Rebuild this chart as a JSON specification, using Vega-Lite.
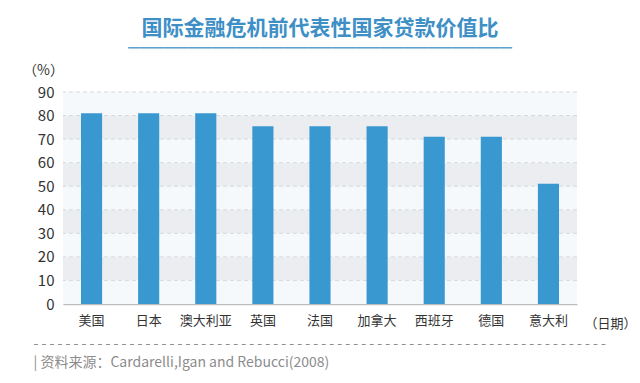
{
  "$schema": "https://vega.github.io/schema/vega-lite/v6.json",
  "width": 514,
  "height": 212,
  "autosize": {"type": "none"},
  "padding": {"left": 63, "top": 92, "right": 63, "bottom": 79},
  "background": "white",
  "config": {"font": "Noto Sans CJK SC", "view": {"stroke": null}},
  "title": {
    "text": "国际金融危机前代表性国家贷款价值比",
    "subtitle": "━━━━━━━━━━━━━━━━━━━━━━━━━━━━━━━━",
    "anchor": "middle",
    "fontSize": 21,
    "fontWeight": "bold",
    "color": "#3d8fc6",
    "subtitleColor": "#5aa3d3",
    "subtitleFontSize": 12,
    "subtitlePadding": 5,
    "offset": 8
  },
  "datasets": {
    "bands": [
      {"lo": 0, "hi": 10, "shade": "light"},
      {"lo": 10, "hi": 20, "shade": "dark"},
      {"lo": 20, "hi": 30, "shade": "light"},
      {"lo": 30, "hi": 40, "shade": "dark"},
      {"lo": 40, "hi": 50, "shade": "light"},
      {"lo": 50, "hi": 60, "shade": "dark"},
      {"lo": 60, "hi": 70, "shade": "light"},
      {"lo": 70, "hi": 80, "shade": "dark"},
      {"lo": 80, "hi": 90, "shade": "light"}
    ],
    "loans": [
      {"country": "美国", "value": 81},
      {"country": "日本", "value": 81},
      {"country": "澳大利亚", "value": 81},
      {"country": "英国", "value": 75.5},
      {"country": "法国", "value": 75.5},
      {"country": "加拿大", "value": 75.5},
      {"country": "西班牙", "value": 71},
      {"country": "德国", "value": 71},
      {"country": "意大利", "value": 51}
    ]
  },
  "layer": [
    {
      "data": {"name": "bands"},
      "mark": {"type": "rect"},
      "encoding": {
        "y": {
          "field": "lo",
          "type": "quantitative",
          "scale": {"domain": [0, 90], "nice": false},
          "axis": {
            "orient": "right",
            "labels": false,
            "ticks": false,
            "domain": false,
            "grid": false,
            "title": ["- - - - - - - - - - - - - - - - - - - - - - - - - - - - - - - - - - - - - - - - - - - - - - - - - - - - - - - - - - - - - - - - - - - - - - - -", "|  资料来源：Cardarelli,Igan and Rebucci(2008)"],
            "titleAngle": 0,
            "titleAlign": "left",
            "titleBaseline": "top",
            "titleX": -544,
            "titleY": 244,
            "titleFontSize": 14,
            "titleFontWeight": "normal",
            "titleColor": "#8c8c8c",
            "titleLineHeight": 19
          }
        },
        "y2": {"field": "hi"},
        "color": {
          "field": "shade",
          "type": "nominal",
          "scale": {"domain": ["dark", "light"], "range": ["#ebedf0", "#f6f9fc"]},
          "legend": null
        }
      }
    },
    {
      "data": {"name": "bands"},
      "mark": {"type": "rule", "color": "#d6d9de", "strokeDash": [4, 3], "strokeWidth": 1},
      "encoding": {
        "y": {"field": "hi", "type": "quantitative", "axis": null}
      }
    },
    {
      "data": {"name": "loans"},
      "mark": {"type": "bar", "color": "#3a98d0"},
      "encoding": {
        "x": {
          "field": "country",
          "type": "nominal",
          "sort": null,
          "scale": {"paddingInner": 0.63, "paddingOuter": 0.315},
          "axis": {
            "labelAngle": 0,
            "labelFontSize": 13,
            "labelColor": "#333333",
            "labelPadding": 10,
            "ticks": false,
            "domain": true,
            "domainColor": "#bdbdbd",
            "domainWidth": 1.5,
            "title": "（日期）",
            "titleX": 547,
            "titleY": 19,
            "titleAlign": "center",
            "titleBaseline": "middle",
            "titleFontSize": 13,
            "titleFontWeight": "normal",
            "titleColor": "#333333"
          }
        },
        "y": {
          "field": "value",
          "type": "quantitative",
          "axis": {
            "orient": "left",
            "values": [0, 10, 20, 30, 40, 50, 60, 70, 80, 90],
            "grid": false,
            "ticks": false,
            "domain": true,
            "domainColor": "#c8c8c8",
            "labelFontSize": 15,
            "labelColor": "#333333",
            "labelPadding": 9,
            "title": "（%）",
            "titleAngle": 0,
            "titleX": -20,
            "titleY": -22,
            "titleAlign": "center",
            "titleBaseline": "middle",
            "titleFontSize": 14,
            "titleFontWeight": "normal",
            "titleColor": "#333333"
          }
        }
      }
    }
  ],
  "resolve": {"axis": {"y": "independent"}}
}
